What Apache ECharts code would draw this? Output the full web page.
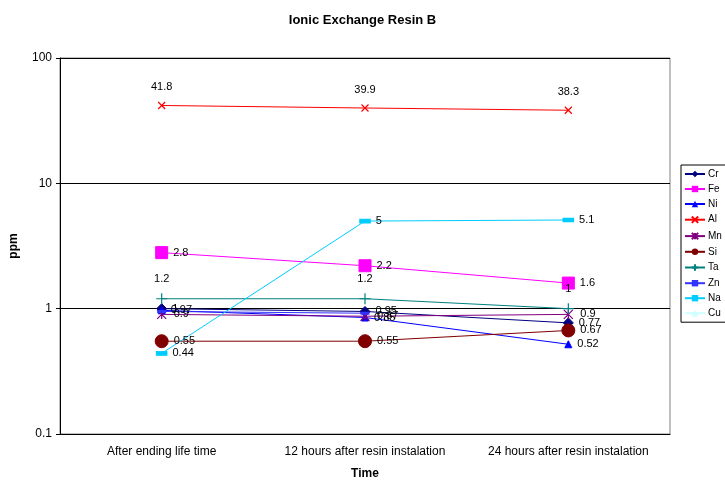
<!DOCTYPE html>
<html><head><meta charset="utf-8">
<script src="https://cdn.jsdelivr.net/npm/echarts@6/dist/echarts.min.js"></script>
<style>html,body{margin:0;padding:0;background:#fff}#c{width:725px;height:481px}</style>
</head><body><div id="c"></div>
<script>
var categories = ["After ending life time", "12 hours after resin instalation", "24 hours after resin instalation"];
var Cr = [1, 0.95, 0.77];
var Fe = [2.8, 2.2, 1.6];
var Ni = [0.97, 0.85, 0.52];
var Al = [41.8, 39.9, 38.3];
var Mn = [0.9, 0.87, 0.9];
var Si = [0.55, 0.55, 0.67];
var Ta = [1.2, 1.2, 1];
var Zn = [0.95, 0.92, null];
var Na = [0.44, 5, 5.1];
var Cu = [null, null, null];
var yTicks = [0.1, 1, 10, 100];

var F = 'Liberation Sans, Arial, sans-serif';
var xPath = 'path://M0,0L10,10M10,0L0,10';
var plusPath = 'path://M5,0L5,10M0,5L10,5';
var starPath = 'path://M0,0L10,10M10,0L0,10M5,0L5,10';

function mk(name, data, color, symbol, size, opts) {
  opts = opts || {};
  return {
    name: name, type: 'line', data: data,
    symbol: symbol, symbolSize: size, connectNulls: false,
    lineStyle: {color: color, width: 1},
    itemStyle: opts.hollow ? {color: 'none', borderColor: color, borderWidth: 1.2} : {color: color, borderColor: color},
    label: {show: opts.noLabel ? false : true, position: opts.pos || 'right', distance: opts.dist || 5,
      color: '#000', fontFamily: F, fontSize: 11},
    emphasis: {disabled: true}, z: opts.z || 2, animation: false
  };
}

var series = [
  mk('Cr', Cr, '#000080', 'diamond', 10),
  mk('Fe', Fe, '#ff00ff', 'rect', 12),
  mk('Ni', Ni, '#0000ff', 'triangle', 7),
  mk('Al', Al, '#ff0000', xPath, 7, {hollow: true, pos: 'top', dist: 7}),
  mk('Mn', Mn, '#800080', starPath, 9, {hollow: true}),
  mk('Si', Si, '#800000', 'circle', 13),
  mk('Ta', Ta, '#008080', plusPath, 11, {hollow: true, pos: 'top', dist: 6}),
  mk('Zn', Zn, '#3333ff', 'rect', [6, 2], {noLabel: true}),
  mk('Na', Na, '#00ccff', 'rect', [10, 4]),
  mk('Cu', Cu, '#ccffff', 'triangle', 7, {noLabel: true})
];

var chart = echarts.init(document.getElementById('c'));
chart.setOption({
  animation: false,
  backgroundColor: '#fff',
  title: {text: 'Ionic Exchange Resin B', left: 'center', top: 9,
    textStyle: {fontFamily: F, fontSize: 13, fontWeight: 'bold', color: '#000'}},
  grid: {left: 60, right: 55, top: 58, bottom: 47, show: true, borderColor: '#808080', borderWidth: 1,
    backgroundColor: '#fff', containLabel: false, outerBoundsMode: 'none'},
  legend: {
    orient: 'vertical', left: 681, top: 165, itemWidth: 20, itemHeight: 8, itemGap: 5,
    padding: [4, 6, 4, 3], borderColor: '#000', borderWidth: 1, backgroundColor: '#fff',
    textStyle: {fontFamily: F, fontSize: 10, color: '#000', padding: [0, 0, 0, -2]},
    data: ['Cr','Fe','Ni','Al','Mn','Si','Ta','Zn','Na','Cu']
  },
  xAxis: {
    type: 'category', data: categories, boundaryGap: true,
    name: 'Time', nameLocation: 'middle', nameGap: 34,
    nameTextStyle: {fontFamily: F, fontSize: 12, fontWeight: 'bold', color: '#000'},
    axisLine: {lineStyle: {color: '#000'}},
    axisTick: {show: false},
    axisLabel: {fontFamily: F, fontSize: 12, color: '#000', margin: 12, interval: 0},
    splitLine: {show: false}
  },
  yAxis: {
    type: 'log', logBase: 10, min: 0.1, max: 100,
    name: 'ppm', nameLocation: 'middle', nameGap: 40, nameRotate: 90,
    nameTextStyle: {fontFamily: F, fontSize: 12, fontWeight: 'bold', color: '#000'},
    axisLine: {show: true, lineStyle: {color: '#000'}},
    axisTick: {show: true, length: 4, inside: false, lineStyle: {color: '#000'}},
    axisLabel: {fontFamily: F, fontSize: 12, color: '#000', margin: 8,
      formatter: function (v) { return String(parseFloat(v.toPrecision(3))); }},
    splitLine: {show: true, lineStyle: {color: '#000', width: 1}},
    minorTick: {show: false}
  },
  series: series
});
</script></body></html>
